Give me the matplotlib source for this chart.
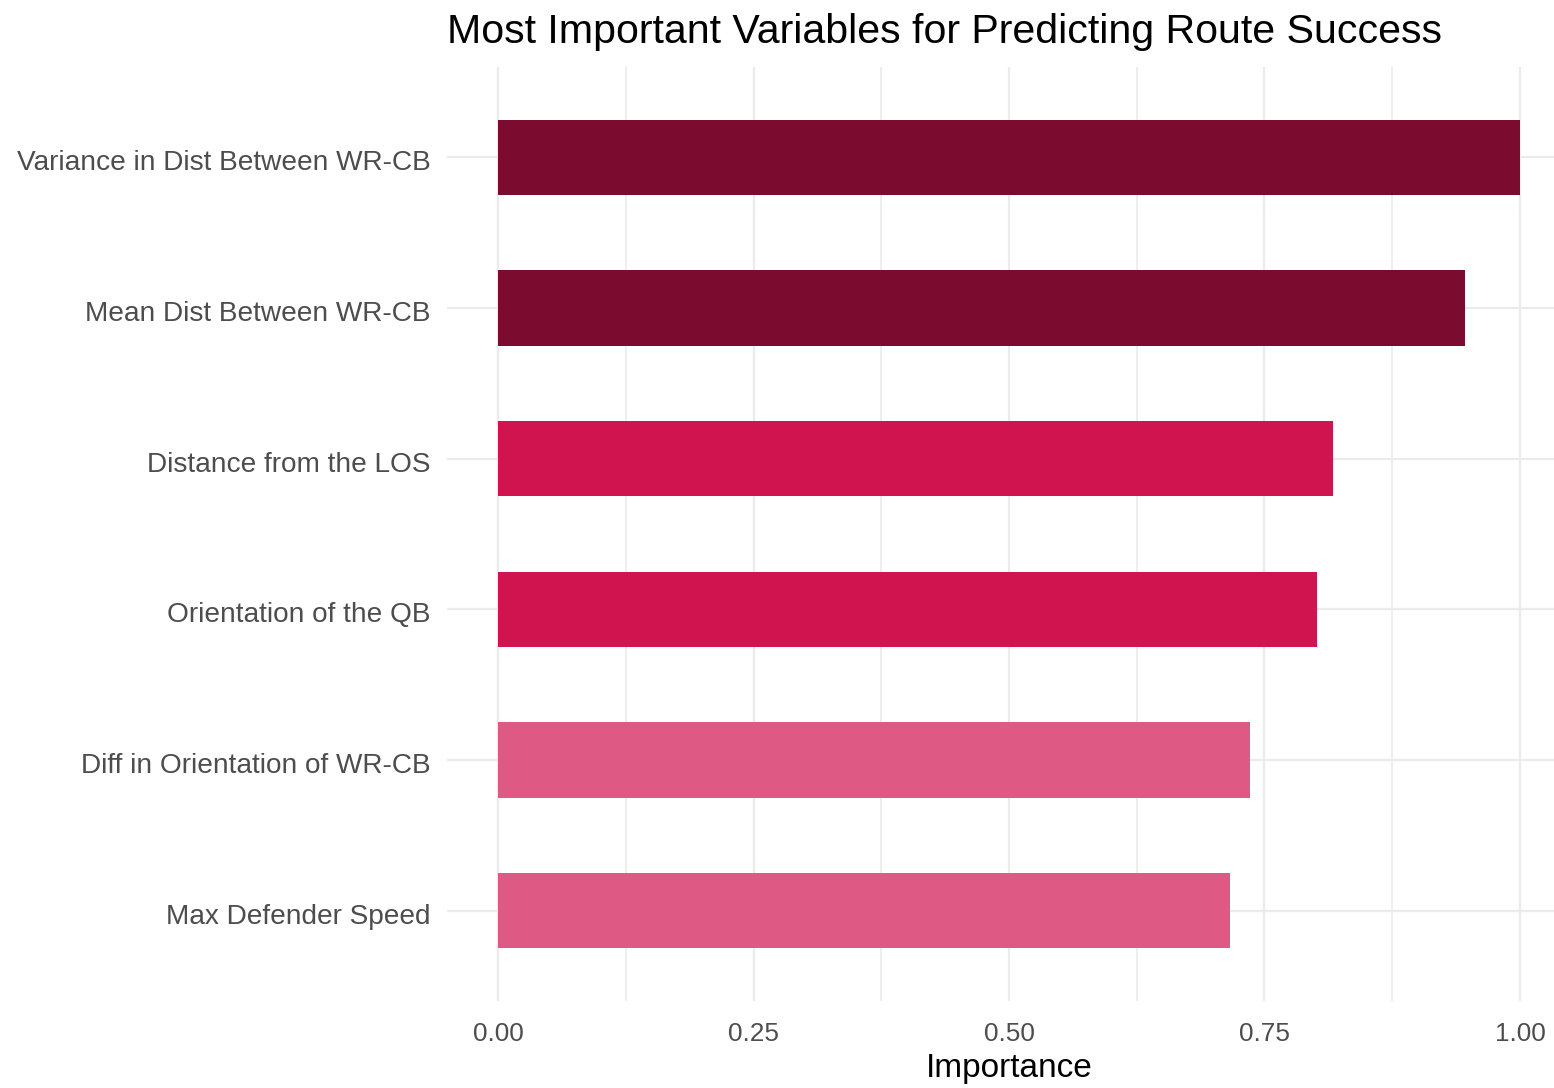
import matplotlib
matplotlib.use("Agg")
import matplotlib.pyplot as plt
import matplotlib.transforms as mtransforms
import numpy as np

variables = [
    "Max Defender Speed",
    "Diff in Orientation of WR-CB",
    "Orientation of the QB",
    "Distance from the LOS",
    "Mean Dist Between WR-CB",
    "Variance in Dist Between WR-CB",
]
importance = [0.716, 0.736, 0.801, 0.817, 0.946, 1.00]
bar_colors = ["#DE5A85", "#DE5A85", "#D01450", "#D01450", "#7B0C30", "#7B0C30"]
major_ticks = [0.0, 0.25, 0.5, 0.75, 1.0]
major_labels = ["0.00", "0.25", "0.50", "0.75", "1.00"]
minor_ticks = [0.125, 0.375, 0.625, 0.875]

plt.rcParams["font.family"] = ["Liberation Sans", "DejaVu Sans"]

W, H = 1554, 1088
fig = plt.figure(figsize=(W / 100, H / 100), dpi=100)
left, right, top, bottom = 447, 1571, 67, 1001
ax = fig.add_axes([left / W, 1 - bottom / H, (right - left) / W, (bottom - top) / H])

y = np.arange(1, len(variables) + 1)
ax.barh(y, importance, height=0.5, color=bar_colors, zorder=3)

ax.set_xlim(-0.05, 1.05)
ax.set_ylim(0.4, len(variables) + 0.6)
ax.set_yticks(y)
ax.set_yticklabels(variables)
ax.set_xticks(major_ticks)
ax.set_xticklabels(major_labels)
ax.set_xticks(minor_ticks, minor=True)

ax.grid(True, which="major", axis="both", color="#EBEBEB", linewidth=1.6, zorder=0)
ax.grid(True, which="minor", axis="x", color="#EBEBEB", linewidth=1.2, zorder=0)
ax.set_axisbelow(True)
for s in ax.spines.values():
    s.set_visible(False)

ax.tick_params(axis="y", which="both", length=0, pad=12, labelsize=20.2, labelcolor="#4D4D4D")
ax.tick_params(axis="x", which="both", length=0, pad=15, labelsize=18.8, labelcolor="#4D4D4D")
offset = mtransforms.ScaledTranslation(0, -3 / 100, fig.dpi_scale_trans)
for lbl in ax.get_yticklabels():
    lbl.set_transform(lbl.get_transform() + offset)

ax.set_xlabel("Importance", fontsize=24, color="black", labelpad=5)
fig.text(left / W, 1 - 43 / H, "Most Important Variables for Predicting Route Success",
         fontsize=29.6, color="black", ha="left", va="baseline")

fig.savefig("out.png", dpi=100)
